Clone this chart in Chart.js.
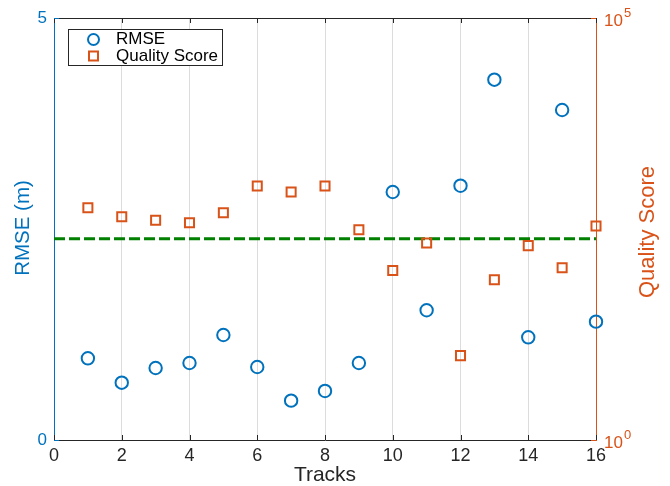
<!DOCTYPE html>
<html>
<head>
<meta charset="utf-8">
<script src="https://cdn.jsdelivr.net/npm/chart.js@4.4.1/dist/chart.umd.min.js"></script>
<style>
  html, body { margin: 0; padding: 0; background: #fff; }
  #wrap { width: 670px; height: 486px; }
</style>
</head>
<body>
<div id="wrap"><canvas id="chart" width="670" height="486"></canvas></div>
<script>
const tracks = [1, 2, 3, 4, 5, 6, 7, 8, 9, 10, 11, 12, 13, 14, 15, 16];
const rmse = [0.968, 0.679, 0.853, 0.912, 1.244, 0.865, 0.466, 0.581,
              0.912, 2.938, 1.537, 3.013, 4.269, 1.217, 3.910, 1.402];
const quality = [565, 442, 401, 376, 493, 1022, 868, 1022,
                 309, 102, 216, 10, 79, 201, 110, 343];
const thresholdX = [0, 16];
const thresholdRmse = 2.385;
const trackTicks = [0, 2, 4, 6, 8, 10, 12, 14, 16];
const rmseTicks = [0, 5];
const qualityTicks = [1, 100000];

const BLUE = '#0072BD';
const ORANGE = '#D95319';
const DARK = '#262626';
const FONT = "'Liberation Sans', Arial, Helvetica, sans-serif";

// MATLAB style box: top edge, inward ticks, power-of-ten labels and legend
const boxPlugin = {
    id: 'matlabBox',
    afterDraw(chart) {
        const { ctx, chartArea: a, scales } = chart;
        ctx.save();

        ctx.strokeStyle = DARK;
        ctx.lineWidth = 1;
        ctx.beginPath();
        ctx.moveTo(a.left, a.top + 0.5);
        ctx.lineTo(a.right, a.top + 0.5);
        ctx.stroke();

        ctx.beginPath();
        trackTicks.forEach(v => {
            const px = Math.round(scales.x.getPixelForValue(v)) + 0.5;
            ctx.moveTo(px, a.bottom);
            ctx.lineTo(px, a.bottom - 5);
            ctx.moveTo(px, a.top);
            ctx.lineTo(px, a.top + 5);
        });
        ctx.stroke();

        ctx.strokeStyle = BLUE;
        ctx.beginPath();
        rmseTicks.forEach(v => {
            const py = Math.round(scales.y.getPixelForValue(v)) + 0.5;
            ctx.moveTo(a.left, py);
            ctx.lineTo(a.left + 5, py);
        });
        ctx.stroke();

        ctx.strokeStyle = ORANGE;
        ctx.beginPath();
        qualityTicks.forEach(v => {
            const py = Math.round(scales.y1.getPixelForValue(v)) + 0.5;
            ctx.moveTo(a.right, py);
            ctx.lineTo(a.right - 5, py);
        });
        ctx.stroke();

        // right axis labels 10^n
        ctx.fillStyle = ORANGE;
        ctx.textBaseline = 'middle';
        ctx.textAlign = 'left';
        qualityTicks.forEach(v => {
            const py = scales.y1.getPixelForValue(v);
            const x0 = a.right + 8;
            ctx.font = '17px ' + FONT;
            ctx.fillText('10', x0, py + 3);
            const w = ctx.measureText('10').width;
            ctx.font = '13px ' + FONT;
            ctx.fillText(String(Math.round(Math.log10(v))), x0 + w + 1, py - 5);
        });

        // y axis titles
        ctx.textAlign = 'center';
        ctx.fillStyle = BLUE;
        ctx.font = '20.5px ' + FONT;
        ctx.save();
        ctx.translate(23, 228);
        ctx.rotate(-Math.PI / 2);
        ctx.fillText('RMSE (m)', 0, 0);
        ctx.restore();
        ctx.fillStyle = ORANGE;
        ctx.font = '22px ' + FONT;
        ctx.save();
        ctx.translate(648, 232);
        ctx.rotate(-Math.PI / 2);
        ctx.fillText('Quality Score', 0, 0);
        ctx.restore();

        // legend
        const lx = 68.5, ly = 29.5, lw = 154, lh = 36;
        ctx.fillStyle = '#fff';
        ctx.fillRect(lx, ly, lw, lh);
        ctx.strokeStyle = DARK;
        ctx.lineWidth = 1;
        ctx.strokeRect(lx, ly, lw, lh);

        ctx.lineWidth = 2;
        ctx.strokeStyle = BLUE;
        ctx.beginPath();
        ctx.arc(93.5, 39.5, 5.5, 0, Math.PI * 2);
        ctx.stroke();
        ctx.strokeStyle = ORANGE;
        ctx.strokeRect(89, 51.5, 9, 9);

        ctx.fillStyle = '#000';
        ctx.font = '17px ' + FONT;
        ctx.textAlign = 'left';
        ctx.textBaseline = 'middle';
        ctx.fillText('RMSE', 116, 39.5);
        ctx.fillText('Quality Score', 116, 56);

        ctx.restore();
    }
};

new Chart(document.getElementById('chart'), {
    type: 'scatter',
    data: {
        datasets: [
            {
                label: 'RMSE',
                data: tracks.map((t, i) => ({ x: t, y: rmse[i] })),
                yAxisID: 'y',
                pointStyle: 'circle',
                pointRadius: 6.2,
                borderWidth: 2,
                borderColor: BLUE,
                backgroundColor: 'rgba(0,0,0,0)',
                clip: false
            },
            {
                label: 'Quality Score',
                data: tracks.map((t, i) => ({ x: t, y: quality[i] })),
                yAxisID: 'y1',
                pointStyle: 'rect',
                pointRadius: 6.4,
                borderWidth: 2,
                borderColor: ORANGE,
                backgroundColor: 'rgba(0,0,0,0)',
                clip: false
            },
            {
                type: 'line',
                label: 'threshold',
                data: thresholdX.map(x => ({ x: x, y: thresholdRmse })),
                yAxisID: 'y',
                borderColor: '#008000',
                borderWidth: 3,
                borderDash: [11, 4],
                pointRadius: 0,
                fill: false
            }
        ]
    },
    options: {
        responsive: false,
        devicePixelRatio: 1,
        animation: false,
        layout: { padding: { top: 18, left: 0, right: 0, bottom: 0 } },
        plugins: {
            legend: { display: false },
            tooltip: { enabled: false }
        },
        scales: {
            x: {
                type: 'linear',
                position: 'bottom',
                min: 0,
                max: 16,
                afterBuildTicks: s => { s.ticks = trackTicks.map(v => ({ value: v })); },
                afterFit: s => { s.height = 46; },
                ticks: { color: DARK, padding: 5, font: { size: 18, family: FONT } },
                grid: { color: 'rgba(38,38,38,0.16)', drawTicks: false },
                border: { color: DARK },
                title: {
                    display: true,
                    text: 'Tracks',
                    color: DARK,
                    font: { size: 21, family: FONT, lineHeight: 1 },
                    padding: { top: 0, bottom: 0 }
                }
            },
            y: {
                type: 'linear',
                position: 'left',
                min: 0,
                max: 5,
                afterBuildTicks: s => { s.ticks = rmseTicks.map(v => ({ value: v })); },
                afterFit: s => { s.width = 54; },
                ticks: { color: BLUE, padding: 7, font: { size: 17, family: FONT } },
                grid: { drawOnChartArea: false, drawTicks: false },
                border: { color: BLUE }
            },
            y1: {
                type: 'logarithmic',
                position: 'right',
                min: 1,
                max: 100000,
                afterBuildTicks: s => { s.ticks = qualityTicks.map(v => ({ value: v })); },
                afterFit: s => { s.width = 74; },
                ticks: { display: false },
                grid: { drawOnChartArea: false, drawTicks: false },
                border: { color: ORANGE }
            }
        }
    },
    plugins: [boxPlugin]
});
</script>
</body>
</html>
